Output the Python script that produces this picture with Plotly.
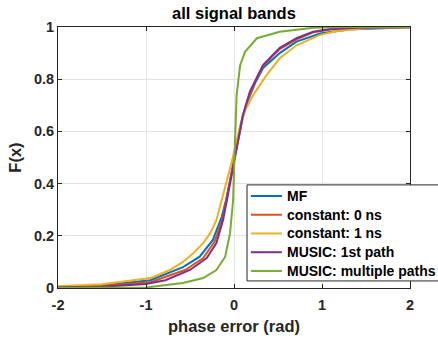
import plotly.graph_objects as go

# Empirical CDFs of phase error (rad) for each estimator
mf_x = [-2.5, -2.0, -1.5, -0.95, -0.58, -0.39, -0.24, -0.14, -0.09, -0.04, 0.0, 0.03, 0.06, 0.1, 0.16, 0.24, 0.33, 0.44, 0.52, 0.71, 0.98, 1.3, 1.6, 2.0, 2.5]
mf_F = [0.0, 0.004, 0.01, 0.03, 0.08, 0.12, 0.184, 0.272, 0.337, 0.42, 0.49, 0.54, 0.6, 0.655, 0.72, 0.785, 0.843, 0.875, 0.9, 0.944, 0.975, 0.99, 0.995, 0.999, 1.0]

c0_x = [-2.5, -2.0, -1.5, -0.95, -0.55, -0.35, -0.22, -0.13, -0.085, -0.04, 0.0, 0.03, 0.06, 0.1, 0.16, 0.24, 0.33, 0.44, 0.52, 0.71, 0.9, 1.1, 1.4, 2.0, 2.5]
c0_F = [0.0, 0.003, 0.008, 0.022, 0.07, 0.115, 0.178, 0.265, 0.337, 0.42, 0.49, 0.545, 0.605, 0.66, 0.725, 0.79, 0.85, 0.89, 0.915, 0.953, 0.98, 0.99, 0.996, 1.0, 1.0]

c1_x = [-2.5, -2.0, -1.5, -0.95, -0.73, -0.58, -0.46, -0.35, -0.27, -0.2, -0.14, -0.08, -0.02, 0.03, 0.08, 0.125, 0.22, 0.37, 0.52, 0.71, 0.98, 1.17, 1.55, 2.0, 2.5]
c1_F = [0.0, 0.008, 0.014, 0.038, 0.069, 0.1, 0.134, 0.172, 0.21, 0.26, 0.337, 0.41, 0.49, 0.567, 0.63, 0.68, 0.74, 0.816, 0.88, 0.93, 0.97, 0.985, 0.996, 1.0, 1.0]

m1_x = [-2.5, -2.0, -1.5, -1.0, -0.78, -0.5, -0.31, -0.2, -0.125, -0.08, -0.04, 0.0, 0.03, 0.06, 0.1, 0.18, 0.33, 0.52, 0.71, 0.9, 1.1, 1.4, 2.0, 2.5]
m1_F = [0.0, 0.003, 0.005, 0.015, 0.03, 0.069, 0.115, 0.172, 0.26, 0.337, 0.41, 0.48, 0.54, 0.6, 0.66, 0.752, 0.854, 0.92, 0.957, 0.982, 0.992, 0.997, 1.0, 1.0]

mm_x = [-2.5, -2.0, -1.0, -0.58, -0.35, -0.2, -0.1, -0.045, -0.01, 0.0, 0.01, 0.03, 0.07, 0.125, 0.26, 0.52, 0.9, 1.3, 2.5]
mm_F = [0.0, 0.0, 0.002, 0.019, 0.038, 0.069, 0.12, 0.21, 0.337, 0.45, 0.55, 0.74, 0.854, 0.905, 0.957, 0.982, 0.997, 1.0, 1.0]

names = ["MF", "constant: 0 ns", "constant: 1 ns", "MUSIC: 1st path", "MUSIC: multiple paths"]
colors = ["#0072BD", "#D95319", "#EDB120", "#7E2F8E", "#77AC30"]
series = [(mf_x, mf_F), (c0_x, c0_F), (c1_x, c1_F), (m1_x, m1_F), (mm_x, mm_F)]

x_ticks = [-2, -1, 0, 1, 2]
x_labels = ["-2", "-1", "0", "1", "2"]
y_ticks = [0, 0.2, 0.4, 0.6, 0.8, 1]
y_labels = ["0", "0.2", "0.4", "0.6", "0.8", "1"]

fig = go.Figure()
for name, color, (xs, fs) in zip(names, colors, series):
    fig.add_trace(go.Scatter(x=xs, y=fs, mode="lines", name=name,
                             line=dict(color=color, width=2), showlegend=False))

# Boxed legend in the lower-right corner of the axes (paper coordinates)
box_x0, box_x1, box_y0, box_y1 = 0.537, 1.10, 0.027, 0.395
sample_x0, sample_x1, text_x = 0.548, 0.636, 0.645
row_top, row_step = 0.3525, 0.0718

shapes = [dict(type="rect", xref="paper", yref="paper",
               x0=box_x0, x1=box_x1, y0=box_y0, y1=box_y1,
               line=dict(color="#262626", width=1), fillcolor="white", layer="above")]
annotations = []
for i, (name, color) in enumerate(zip(names, colors)):
    ry = row_top - i * row_step
    shapes.append(dict(type="line", xref="paper", yref="paper",
                       x0=sample_x0, x1=sample_x1, y0=ry, y1=ry,
                       line=dict(color=color, width=2), layer="above"))
    annotations.append(dict(text=name, xref="paper", yref="paper", x=text_x, y=ry,
                            xanchor="left", yanchor="middle", showarrow=False,
                            font=dict(size=14, color="black", weight="bold")))

axis_common = dict(
    showline=True, linecolor="#262626", linewidth=1, mirror="ticks",
    ticks="inside", ticklen=4, tickcolor="#262626",
    showgrid=True, gridcolor="#E3E3E3", gridwidth=1,
    zeroline=False, tickfont=dict(size=14.5, color="#262626", weight="bold"),
)

fig.update_layout(
    width=438, height=342,
    margin=dict(l=58, r=28, t=27, b=54, autoexpand=False),
    paper_bgcolor="white", plot_bgcolor="white",
    font=dict(family="Liberation Sans, Arial, sans-serif", color="#262626", weight="bold"),
    title=dict(text="all signal bands", x=0.5, xref="paper", xanchor="center",
               y=0.962, yref="container", yanchor="middle",
               font=dict(size=16.5, color="black", weight="bold")),
    xaxis=dict(range=[-2, 2], tickvals=x_ticks, ticktext=x_labels, ticklabelstandoff=4,
               title=dict(text="phase error (rad)", font=dict(size=16.5, weight="bold"), standoff=8),
               **axis_common),
    yaxis=dict(range=[0, 1], tickvals=y_ticks, ticktext=y_labels,
               title=dict(text="F(x)", font=dict(size=16.5, weight="bold"), standoff=8),
               **axis_common),
    shapes=shapes,
    annotations=annotations,
    showlegend=False,
)

fig.write_html("out.html")
